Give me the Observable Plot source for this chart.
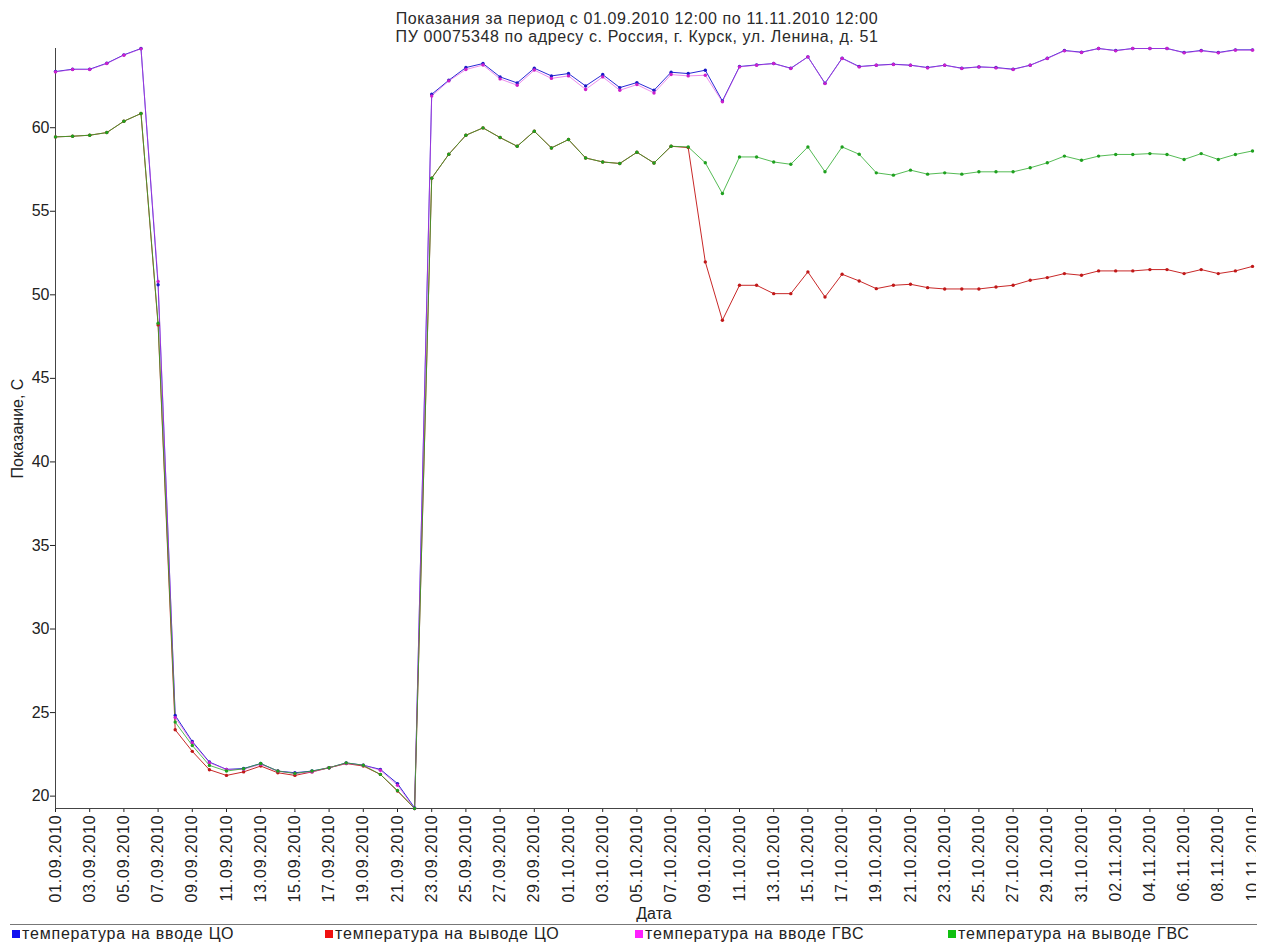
<!DOCTYPE html>
<html>
<head>
<meta charset="utf-8">
<script src="https://cdn.jsdelivr.net/npm/d3@7"></script>
<script src="https://cdn.jsdelivr.net/npm/@observablehq/plot@0.6"></script>
<style>
  html, body { margin: 0; padding: 0; background: #fff; }
  body { position: relative; width: 1274px; height: 944px; overflow: hidden; font-family: "Liberation Sans", Arial, sans-serif; color: #222; }
  #title { position: absolute; left: 0; top: 0; width: 1274px; z-index: 2; padding-top: 10px; text-align: center; font-size: 16px; line-height: 18px; letter-spacing: 0.6px; color: #2a2a2a; }
  #chart { padding-top: 40px; }
  #chart svg { display: block; clip-path: inset(0 18px 0 0); }
  #chart svg [aria-label="x-axis tick label"] text { letter-spacing: 0.8px; }
  #legend { position: relative; margin-left: 10px; width: 1247px; height: 20px; border-top: 1px solid #777; }
  .item { position: absolute; top: 0; font-size: 16px; line-height: 18px; letter-spacing: 0.8px; white-space: nowrap; }
  .sw { display: inline-block; width: 8px; height: 8px; margin-right: 2px; vertical-align: 1px; }
</style>
</head>
<body>
<div id="title">
  <div>Показания за период с 01.09.2010 12:00 по 11.11.2010 12:00</div>
  <div>ПУ 00075348 по адресу с. Россия, г. Курск, ул. Ленина, д. 51</div>
</div>
<div id="chart"></div>
<div id="legend"></div>
<script>
// ---- data ----
const dates = [
  "01.09.2010","02.09.2010","03.09.2010","04.09.2010","05.09.2010","06.09.2010","07.09.2010","08.09.2010","09.09.2010","10.09.2010",
  "11.09.2010","12.09.2010","13.09.2010","14.09.2010","15.09.2010","16.09.2010","17.09.2010","18.09.2010","19.09.2010","20.09.2010",
  "21.09.2010","22.09.2010","23.09.2010","24.09.2010","25.09.2010","26.09.2010","27.09.2010","28.09.2010","29.09.2010","30.09.2010",
  "01.10.2010","02.10.2010","03.10.2010","04.10.2010","05.10.2010","06.10.2010","07.10.2010","08.10.2010","09.10.2010","10.10.2010",
  "11.10.2010","12.10.2010","13.10.2010","14.10.2010","15.10.2010","16.10.2010","17.10.2010","18.10.2010","19.10.2010","20.10.2010",
  "21.10.2010","22.10.2010","23.10.2010","24.10.2010","25.10.2010","26.10.2010","27.10.2010","28.10.2010","29.10.2010","30.10.2010",
  "31.10.2010","01.11.2010","02.11.2010","03.11.2010","04.11.2010","05.11.2010","06.11.2010","07.11.2010","08.11.2010","09.11.2010",
  "10.11.2010"
];

const seriesNames = [
  "температура на вводе ЦО",
  "температура на выводе ЦО",
  "температура на вводе ГВС",
  "температура на выводе ГВС"
];

const inCO = [63.36,63.5,63.5,63.86,64.36,64.74,50.6,24.83,23.27,22.04,21.6,21.65,21.95,21.5,21.4,21.5,21.7,21.99,21.85,21.6,20.75,19.3,62.0,62.84,63.6,63.84,63.04,62.68,63.56,63.1,63.24,62.5,63.18,62.4,62.7,62.24,63.32,63.24,63.44,61.6,63.66,63.76,63.84,63.56,64.24,62.66,64.16,63.66,63.74,63.8,63.74,63.6,63.74,63.56,63.64,63.6,63.5,63.74,64.16,64.62,64.52,64.74,64.62,64.74,64.74,64.74,64.5,64.62,64.5,64.66,64.66];

const outCO = [59.45,59.49,59.55,59.71,60.39,60.85,48.2,23.97,22.68,21.58,21.24,21.45,21.8,21.4,21.24,21.45,21.7,21.95,21.8,21.3,20.3,19.26,56.98,58.41,59.55,59.99,59.41,58.89,59.79,58.79,59.29,58.19,57.95,57.86,58.53,57.89,58.89,58.81,51.97,48.48,50.57,50.57,50.07,50.07,51.37,49.87,51.23,50.83,50.37,50.57,50.63,50.43,50.35,50.35,50.35,50.47,50.57,50.87,51.03,51.27,51.17,51.43,51.43,51.43,51.51,51.51,51.27,51.51,51.27,51.43,51.7];

const inGVS = [63.34,63.48,63.48,63.84,64.34,64.72,50.8,24.7,23.2,22.0,21.6,21.6,21.9,21.5,21.35,21.45,21.7,21.95,21.85,21.55,20.65,19.26,61.9,62.8,63.48,63.75,62.92,62.54,63.45,62.95,63.1,62.29,63.04,62.24,62.58,62.08,63.18,63.1,63.14,61.55,63.64,63.74,63.84,63.54,64.24,62.64,64.14,63.64,63.74,63.78,63.74,63.58,63.74,63.54,63.64,63.58,63.48,63.74,64.14,64.6,64.5,64.74,64.6,64.74,64.74,64.74,64.48,64.6,64.48,64.64,64.64];

const outGVS = [59.45,59.49,59.55,59.71,60.39,60.85,48.3,24.43,23.03,21.84,21.5,21.64,21.95,21.5,21.36,21.5,21.7,21.99,21.85,21.3,20.34,19.26,56.98,58.41,59.55,59.99,59.41,58.89,59.79,58.79,59.29,58.19,57.95,57.86,58.53,57.89,58.89,58.85,57.9,56.06,58.25,58.25,57.95,57.81,58.85,57.36,58.85,58.41,57.3,57.16,57.46,57.22,57.3,57.22,57.36,57.36,57.36,57.6,57.9,58.3,58.05,58.3,58.4,58.4,58.45,58.4,58.1,58.45,58.1,58.4,58.61];

const yTicks = [20, 25, 30, 35, 40, 45, 50, 55, 60];
const xTickLabels = dates.filter((d, i) => i % 2 === 0);

const lineColors = ["#2a2ad6", "#c82828", "#e040e0", "#2aaa2a"];
const lineOpacity = [1, 1, 0.6, 0.8];
const dotColors  = ["#1a1ac8", "#c01818", "#cc20cc", "#1fa01f"];
const swatchColors = ["#1010f0", "#f01010", "#ff20ff", "#10c010"];

// ---- build table ----
const parse = s => { const [d, m, y] = s.split(".").map(Number); return new Date(Date.UTC(y, m - 1, d)); };
const values = [inCO, outCO, inGVS, outGVS];
const tables = values.map((arr, k) => arr.map((v, i) => ({ date: parse(dates[i]), value: v, series: seriesNames[k] })));
const xTicks = xTickLabels.map(parse);
const fmt = d3.utcFormat("%d.%m.%Y");

const marks = [
  Plot.axisY({ ticks: yTicks, tickSize: 5, tickPadding: 1, fontSize: 16,
               label: "Показание, С", labelAnchor: "center", labelArrow: "none", labelOffset: 44 }),
  Plot.axisX({ ticks: xTicks, tickFormat: fmt, tickRotate: -90, tickSize: 4, tickPadding: 2, fontSize: 16,
               label: "Дата", labelAnchor: "center", labelArrow: "none", labelOffset: 110 }),
  Plot.frame({ anchor: "left", stroke: "#444" }),
  Plot.frame({ anchor: "bottom", stroke: "#444" })
];
// lines in legend order; ГВС lines slightly transparent so coinciding lines blend
[0, 1, 2, 3].forEach(k => {
  marks.push(Plot.line(tables[k], { x: "date", y: "value", stroke: lineColors[k], strokeOpacity: lineOpacity[k], strokeWidth: 1 }));
});
[0, 1, 2, 3].forEach(k => {
  marks.push(Plot.dot(tables[k], { x: "date", y: "value", fill: dotColors[k], r: 1.7 }));
});

const chart = Plot.plot({
  width: 1274,
  height: 884,
  marginLeft: 55,
  marginRight: 22,
  marginTop: 8,
  marginBottom: 116,
  x: { type: "utc", domain: [parse(dates[0]), parse(dates[dates.length - 1])] },
  y: { type: "linear" },
  style: { fontFamily: "'Liberation Sans', Arial, sans-serif", fontSize: "16px", color: "#222", background: "#fff" },
  marks
});
document.getElementById("chart").appendChild(chart);

// ---- legend ----
const legend = document.getElementById("legend");
const lefts = [2, 315, 625, 938];
seriesNames.forEach((name, k) => {
  const it = document.createElement("div");
  it.className = "item";
  it.style.left = lefts[k] + "px";
  const sw = document.createElement("span");
  sw.className = "sw";
  sw.style.background = swatchColors[k];
  it.appendChild(sw);
  it.appendChild(document.createTextNode(name));
  legend.appendChild(it);
});
</script>
</body>
</html>
